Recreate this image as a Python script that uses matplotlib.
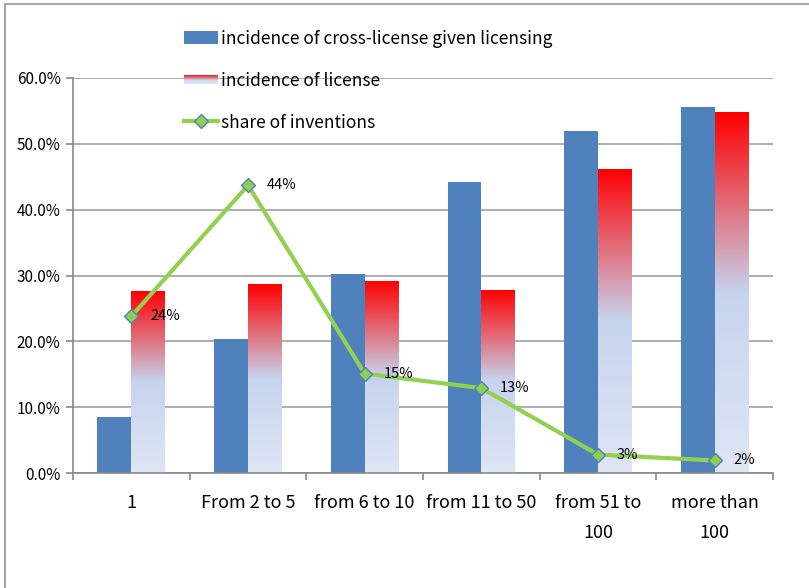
import numpy as np
import matplotlib
matplotlib.use("Agg")
import matplotlib.pyplot as plt
from matplotlib.colors import LinearSegmentedColormap
from matplotlib.patches import Rectangle
from matplotlib.lines import Line2D
from matplotlib.legend_handler import HandlerBase

plt.rcParams['font.family'] = ['Noto Sans CJK JP', 'DejaVu Sans']

categories = ["1", "From 2 to 5", "from 6 to 10", "from 11 to 50", "from 51 to\n100", "more than\n100"]
cross_license = [8.5, 20.3, 30.2, 44.2, 52.0, 55.6]
license_inc = [27.6, 28.7, 29.2, 27.8, 46.2, 54.8]
share_inv = [23.8, 43.7, 15.1, 12.9, 2.8, 1.9]
share_labels = ["24%", "44%", "15%", "13%", "3%", "2%"]

blue = "#4f81bd"
green = "#92d050"
grad = LinearSegmentedColormap.from_list(
    "lic", [(0.0, "#dfe6f4"), (0.5, "#c6d4ee"), (1.0, "#ff0000")])

fig = plt.figure(figsize=(8.09, 5.88), dpi=100)
ax = fig.add_axes([73/809, 1-473/588, 700/809, 395/588])

x = np.arange(len(categories))
w = 0.29

ax.bar(x, cross_license, width=-w, align="edge", color=blue, zorder=2)

# gradient bars: an image clipped to each bar
g = np.linspace(0, 1, 256).reshape(-1, 1)
for xi, h in zip(x, license_inc):
    rect = Rectangle((xi, 0), w, h, facecolor="none", edgecolor="none")
    ax.add_patch(rect)
    im = ax.imshow(g, cmap=grad, origin="lower", aspect="auto",
                   extent=(xi, xi + w, 0, h), zorder=2)
    im.set_clip_path(rect)

ax.plot(x, share_inv, color=green, lw=3, marker="D", markersize=7,
        markerfacecolor="#8fcf4f", markeredgecolor=blue, markeredgewidth=1, zorder=4)
for xi, yi, lab in zip(x, share_inv, share_labels):
    ax.text(xi + 0.16, yi, lab, fontsize=10.5, va="center", ha="left", zorder=5)

ax.set_xlim(-0.5, len(categories) - 0.5)
ax.set_ylim(0, 60)
ax.set_yticks(np.arange(0, 61, 10))
ax.set_yticklabels([f"{v:.1f}%" for v in np.arange(0, 61, 10)], fontsize=11)
ax.yaxis.grid(True, color="#a0a0a0", lw=1.2, zorder=0)
ax.set_axisbelow(True)

ax.set_xticks(x)
ax.set_xticklabels(categories, fontsize=13, linespacing=1.85)
ax.tick_params(axis="x", length=0, pad=15)
ax.set_xticks(np.arange(-0.5, len(categories)), minor=True)
ax.tick_params(axis="x", which="minor", length=5, color="#888888", width=1.2)
ax.tick_params(axis="y", length=5, color="#888888", width=1.2, pad=4)

for s in ["top", "right"]:
    ax.spines[s].set_visible(False)
for s in ["left", "bottom"]:
    ax.spines[s].set_color("#888888")
    ax.spines[s].set_linewidth(1.2)


class GradientHandler(HandlerBase):
    def create_artists(self, legend, orig, xd, yd, width, height, fontsize, trans):
        arts = []
        n = 12
        for i in range(n):
            r = Rectangle((xd, yd + height * 0.1 + i * height * 0.8 / n), width,
                          height * 0.8 / n, facecolor=grad(i / (n - 1)),
                          edgecolor="none", transform=trans)
            arts.append(r)
        return arts


h_blue = Rectangle((0, 0), 1, 1, facecolor=blue)
h_grad = Rectangle((0, 0), 1, 1)
h_line = Line2D([], [], color=green, lw=3, marker="D", markersize=7,
                markerfacecolor="#8fcf4f", markeredgecolor=blue)
fig.legend([h_blue, h_grad, h_line],
           ["incidence of cross-license given licensing", "incidence of license",
            "share of inventions"],
           handler_map={h_grad: GradientHandler()},
           loc="upper left", bbox_to_anchor=(168/809, 1-14/588), frameon=False,
           fontsize=12.5, labelspacing=1.38, handlelength=2.0, handletextpad=0.15)

# outer frame of the chart
fig.add_artist(Rectangle((5/809, -0.1), 1.2, 1.1 - 4/588, transform=fig.transFigure,
                         facecolor="none", edgecolor="#a6a6a6", lw=1.5))

fig.savefig("out.png", dpi=100)
